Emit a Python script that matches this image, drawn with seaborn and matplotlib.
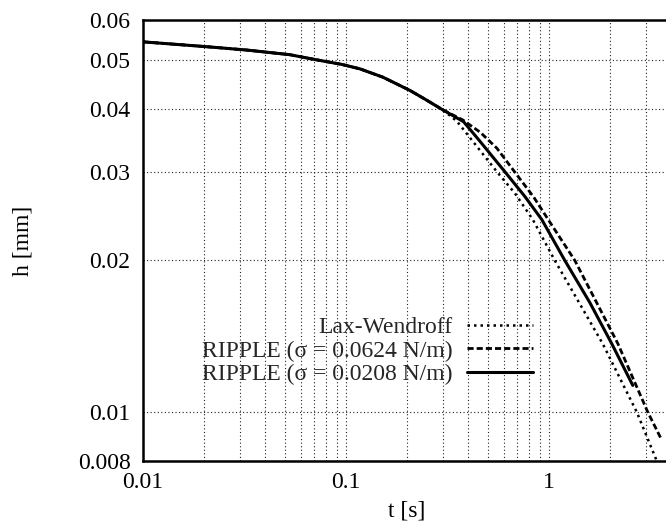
import numpy as np
import pandas as pd
import matplotlib
matplotlib.use("Agg")
import matplotlib.pyplot as plt
import matplotlib.ticker as mticker
import seaborn as sns

# ---- data ----
t_lax = [0.01, 0.0207, 0.0325, 0.0530, 0.0720, 0.095, 0.1172, 0.1522, 0.2066, 0.25,
         0.300, 0.352, 0.457, 0.5545, 0.68, 0.834, 1.070, 1.845, 2.714, 3.404]
h_lax = [0.0543, 0.0531, 0.0523, 0.0512, 0.0500, 0.0490, 0.0480, 0.0462, 0.0435, 0.0416,
         0.0398, 0.0378, 0.0331, 0.0300, 0.0272, 0.0241, 0.0200, 0.01366, 0.0100, 0.0080]

t_r624 = [0.01, 0.0207, 0.0325, 0.0530, 0.0720, 0.095, 0.1172, 0.1522, 0.2066, 0.25,
          0.300, 0.377, 0.46, 0.5545, 0.665, 0.843, 1.0, 1.343, 2.188, 3.074, 3.603]
h_r624 = [0.0543, 0.0531, 0.0523, 0.0512, 0.0500, 0.0490, 0.0480, 0.0462, 0.0435, 0.0416,
          0.0398, 0.0380, 0.0359, 0.0334, 0.0303, 0.0267, 0.0240, 0.0200, 0.01368, 0.0100, 0.0088]

t_r208 = [0.01, 0.0207, 0.0325, 0.0530, 0.0720, 0.095, 0.1172, 0.1522, 0.2066, 0.25,
          0.300, 0.38, 0.457, 0.6071, 0.7614, 0.9237, 1.199, 1.592, 2.043, 2.593]
h_r208 = [0.0543, 0.0531, 0.0523, 0.0512, 0.0500, 0.0490, 0.0480, 0.0462, 0.0435, 0.0416,
          0.0398, 0.0377, 0.0345, 0.0300, 0.0268, 0.0241, 0.0200, 0.0165, 0.01367, 0.0113]

labels = ["Lax-Wendroff", "RIPPLE (σ = 0.0624 N/m)", "RIPPLE (σ = 0.0208 N/m)"]
x_ticks = [0.01, 0.1, 1]
x_ticklabels = ["0.01", "0.1", "1"]
y_ticks = [0.008, 0.01, 0.02, 0.03, 0.04, 0.05, 0.06]
y_ticklabels = ["0.008", "0.01", "0.02", "0.03", "0.04", "0.05", "0.06"]

# ---- style ----
sns.set_style("white")
plt.rcParams["font.family"] = ["Liberation Serif", "DejaVu Serif"]
FS = 17

fig = plt.figure(figsize=(6.66, 5.25), dpi=100)
ax = fig.add_axes([143 / 666, 1 - 461 / 525, 528 / 666, 441 / 525])
ax.set_xscale("log")
ax.set_yscale("log")

sns.lineplot(x=t_lax, y=h_lax, ax=ax, color="black", lw=1.8,
             linestyle=(0, (1, 1.6)), label=labels[0], sort=False, estimator=None)
sns.lineplot(x=t_r624, y=h_r624, ax=ax, color="black", lw=2.0,
             linestyle=(0, (2.2, 1.1)), label=labels[1], sort=False, estimator=None)
sns.lineplot(x=t_r208, y=h_r208, ax=ax, color="black", lw=2.2,
             linestyle="-", label=labels[2], sort=False, estimator=None)

ax.set_xlim(0.01, 4.0)
ax.set_ylim(0.008, 0.06)

ax.xaxis.set_major_locator(mticker.FixedLocator(x_ticks))
ax.xaxis.set_major_formatter(mticker.FixedFormatter(x_ticklabels))
ax.xaxis.set_minor_locator(mticker.LogLocator(base=10, subs=np.arange(2, 10), numticks=20))
ax.xaxis.set_minor_formatter(mticker.NullFormatter())
ax.yaxis.set_major_locator(mticker.FixedLocator(y_ticks))
ax.yaxis.set_major_formatter(mticker.FixedFormatter(y_ticklabels))
ax.yaxis.set_minor_locator(mticker.NullLocator())

ax.tick_params(axis="both", which="major", direction="in", length=7, width=1.5,
               color="black", labelsize=FS, labelcolor="black")
ax.tick_params(axis="x", which="major", pad=8)
ax.tick_params(axis="y", which="major", pad=9)
ax.tick_params(axis="x", which="minor", direction="in", length=4, width=1.2, color="black")

ax.grid(True, which="major", axis="both", color="#222222", lw=0.8, linestyle=(0, (1, 2.2)))
ax.grid(True, which="minor", axis="x", color="#222222", lw=0.8, linestyle=(0, (1, 2.2)))

for side in ["left", "bottom", "top", "right"]:
    ax.spines[side].set_color("black")
    ax.spines[side].set_linewidth(1.8)

ax.set_xlabel("t [s]", fontsize=FS, labelpad=5, color="black")
ax.set_ylabel("h [mm]", fontsize=FS, labelpad=32, color="black")

ax.legend(loc="center right", bbox_to_anchor=(533 / 666, 1 - 351 / 525),
          bbox_transform=fig.transFigure, markerfirst=False, frameon=False,
          fontsize=FS, handlelength=2.8, handletextpad=0.6, labelspacing=0.08,
          borderpad=0, borderaxespad=0)

fig.savefig("out.png", dpi=100)
